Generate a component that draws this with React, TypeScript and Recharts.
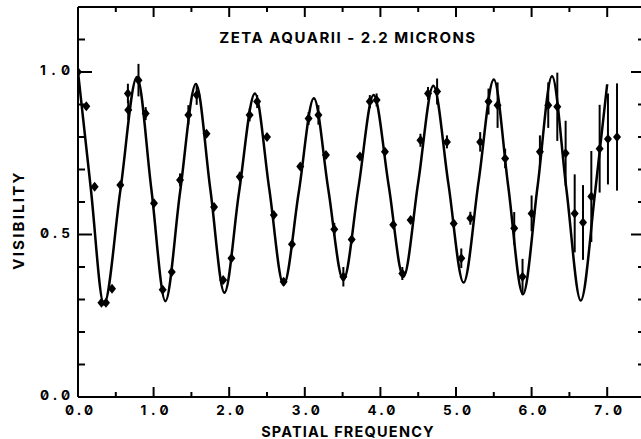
import { ComposedChart, ErrorBar, Label, Line, Scatter, XAxis, YAxis } from "recharts";

// fitted model curve, read at extrema and half-way points
const curveFreq = [
  0, 0.17, 0.343, 0.56, 0.78, 0.97, 1.156, 1.35, 1.56, 1.75, 1.937, 2.13, 2.34, 2.53,
  2.72, 2.92, 3.12, 3.31, 3.51, 3.71, 3.91, 4.11, 4.305, 4.5, 4.7, 4.9, 5.1, 5.3, 5.5,
  5.69, 5.885, 6.08, 6.27, 6.46, 6.65, 6.84, 7.0,
];
const curveVis = [
  1.0, 0.64, 0.285, 0.635, 0.985, 0.64, 0.295, 0.63, 0.963, 0.64, 0.321, 0.63, 0.934, 0.64,
  0.345, 0.63, 0.919, 0.64, 0.36, 0.645, 0.929, 0.65, 0.37, 0.66, 0.958, 0.655, 0.352, 0.665,
  0.977, 0.65, 0.316, 0.65, 0.987, 0.64, 0.297, 0.63, 0.963,
];

// measured visibilities with their errors
const obsFreq = [
  0, 0.11, 0.22, 0.31, 0.37, 0.45, 0.56, 0.66, 0.665, 0.8, 0.895, 1.005, 1.12, 1.24, 1.35,
  1.46, 1.57, 1.7, 1.8, 1.92, 2.03, 2.14, 2.27, 2.37, 2.5, 2.59, 2.72, 2.83, 2.94, 3.05,
  3.18, 3.28, 3.39, 3.51, 3.62, 3.73, 3.86, 3.95, 4.06, 4.17, 4.29, 4.4, 4.53, 4.63, 4.75,
  4.88, 4.97, 5.07, 5.19, 5.32, 5.43, 5.55, 5.65, 5.77, 5.88, 6.0, 6.11, 6.22, 6.34, 6.45,
  6.57, 6.68, 6.79, 6.9, 7.01, 7.13,
];
const obsVis = [
  1.0, 0.895, 0.647, 0.29, 0.29, 0.333, 0.652, 0.934, 0.883, 0.975, 0.872, 0.596, 0.33, 0.385,
  0.668, 0.868, 0.929, 0.81, 0.585, 0.36, 0.427, 0.678, 0.868, 0.909, 0.8, 0.56, 0.355, 0.47,
  0.709, 0.857, 0.868, 0.745, 0.516, 0.37, 0.485, 0.74, 0.909, 0.914, 0.755, 0.53, 0.38,
  0.545, 0.79, 0.934, 0.94, 0.785, 0.534, 0.427, 0.55, 0.785, 0.909, 0.898, 0.734, 0.519,
  0.37, 0.565, 0.755, 0.898, 0.893, 0.75, 0.565, 0.537, 0.617, 0.764, 0.794, 0.8,
];
const obsErr = [
  0.01, 0.01, 0.01, 0.01, 0.01, 0.01, 0.01, 0.03, 0.03, 0.05, 0.02, 0.01, 0.01, 0.01, 0.02,
  0.03, 0.03, 0.01, 0.01, 0.01, 0.01, 0.015, 0.02, 0.02, 0.01, 0.01, 0.01, 0.01, 0.01, 0.02,
  0.03, 0.01, 0.02, 0.03, 0.01, 0.01, 0.02, 0.02, 0.01, 0.01, 0.02, 0.01, 0.02, 0.02, 0.04,
  0.02, 0.01, 0.03, 0.02, 0.03, 0.04, 0.07, 0.03, 0.05, 0.055, 0.055, 0.05, 0.07, 0.105, 0.1,
  0.12, 0.115, 0.14, 0.135, 0.14, 0.165,
];

const xTicks = [0, 0.5, 1, 1.5, 2, 2.5, 3, 3.5, 4, 4.5, 5, 5.5, 6, 6.5, 7, 7.5];
const xMajor = [0, 1, 2, 3, 4, 5, 6, 7];
const xLabels = ["0.0", "1.0", "2.0", "3.0", "4.0", "5.0", "6.0", "7.0"];
const yTicks = [0, 0.1, 0.2, 0.3, 0.4, 0.5, 0.6, 0.7, 0.8, 0.9, 1.0, 1.1, 1.2];
const yMajor = [0, 0.5, 1.0];
const yLabels = ["0.0", "0.5", "1.0"];

const curve = curveFreq.map((f, i) => ({ f, v: curveVis[i] }));
const obs = obsFreq.map((f, i) => ({ f, v: obsVis[i], err: obsErr[i] }));

const FONT = "Inter, 'DejaVu Sans', sans-serif";
const labelStyle = {
  fontFamily: FONT,
  fontWeight: 700,
  fontSize: 13.5,
  fontFeatureSettings: '"zero" 1',
};
const titleStyle = { fontFamily: FONT, fontWeight: 700, fontSize: 15, letterSpacing: "1.5px" };
const xTitleStyle = { fontFamily: FONT, fontWeight: 700, fontSize: 14.5, letterSpacing: "1.2px" };
const yTitleStyle = { fontFamily: FONT, fontWeight: 700, fontSize: 15, letterSpacing: "2.2px" };

const isMajor = (list: number[], v: number) => list.some((m) => Math.abs(m - v) < 1e-6);
const labelFor = (list: number[], labels: string[], v: number) =>
  labels[list.findIndex((m) => Math.abs(m - v) < 1e-6)];

function BottomTick(props: any) {
  const { x, y, payload } = props;
  const major = isMajor(xMajor, payload.value);
  return (
    <g>
      <line x1={x} x2={x} y1={y} y2={y - (major ? 10 : 5)} stroke="#000" strokeWidth={2} />
      {major ? (
        <text
          x={x - 13}
          y={y + 13}
          textLength={28}
          lengthAdjust="spacing"
          dominantBaseline="central"
          style={labelStyle}
        >
          {labelFor(xMajor, xLabels, payload.value)}
        </text>
      ) : null}
    </g>
  );
}

function TopTick(props: any) {
  const { x, y, payload } = props;
  const major = isMajor(xMajor, payload.value);
  return <line x1={x} x2={x} y1={y} y2={y + (major ? 10 : 5)} stroke="#000" strokeWidth={2} />;
}

function LeftTick(props: any) {
  const { x, y, payload } = props;
  const major = isMajor(yMajor, payload.value);
  return (
    <g>
      <line x1={x} x2={x + (major ? 14 : 7)} y1={y} y2={y} stroke="#000" strokeWidth={2} />
      {major ? (
        <text
          x={x - 38}
          y={y - 2}
          textLength={30}
          lengthAdjust="spacing"
          dominantBaseline="central"
          style={labelStyle}
        >
          {labelFor(yMajor, yLabels, payload.value)}
        </text>
      ) : null}
    </g>
  );
}

function RightTick(props: any) {
  const { x, y, payload } = props;
  const major = isMajor(yMajor, payload.value);
  return <line x1={x} x2={x - (major ? 14 : 7)} y1={y} y2={y} stroke="#000" strokeWidth={2} />;
}

function Diamond(props: any) {
  const { cx, cy } = props;
  return (
    <polygon
      points={`${cx},${cy - 5} ${cx + 4},${cy} ${cx},${cy + 5} ${cx - 4},${cy}`}
      fill="#000"
    />
  );
}

export default function App() {
  return (
    <div
      style={{
        position: "absolute",
        left: 0,
        top: 0,
        width: 641,
        height: 439,
        overflow: "hidden",
        background: "#fff",
      }}
    >
      <ComposedChart width={660} height={439} margin={{ top: 0, right: 0, bottom: 0, left: 0 }}>
        <XAxis
          xAxisId="top"
          orientation="top"
          type="number"
          dataKey="f"
          domain={[0, 7.5]}
          allowDataOverflow
          ticks={xTicks}
          interval={0}
          height={7}
          tickSize={0}
          tickMargin={0}
          tickLine={false}
          axisLine={{ stroke: "#000", strokeWidth: 2 }}
          tick={<TopTick />}
        >
          <Label
            content={() => (
              <text x={348} y={37} textAnchor="middle" dominantBaseline="central" style={titleStyle}>
                ZETA AQUARII - 2.2 MICRONS
              </text>
            )}
          />
        </XAxis>
        <XAxis
          type="number"
          dataKey="f"
          domain={[0, 7.5]}
          allowDataOverflow
          ticks={xTicks}
          interval={0}
          height={42}
          tickSize={0}
          tickMargin={0}
          tickLine={false}
          axisLine={{ stroke: "#000", strokeWidth: 2 }}
          tick={<BottomTick />}
        >
          <Label
            content={() => (
              <text x={348} y={431} textAnchor="middle" dominantBaseline="central" style={xTitleStyle}>
                SPATIAL FREQUENCY
              </text>
            )}
          />
        </XAxis>
        <YAxis
          type="number"
          domain={[0, 1.2]}
          allowDataOverflow
          ticks={yTicks}
          interval={0}
          width={78}
          tickSize={0}
          tickMargin={0}
          tickLine={false}
          axisLine={{ stroke: "#000", strokeWidth: 2 }}
          tick={<LeftTick />}
        >
          <Label
            content={() => (
              <text
                x={18}
                y={220}
                textAnchor="middle"
                dominantBaseline="central"
                transform="rotate(-90 18 220)"
                style={yTitleStyle}
              >
                VISIBILITY
              </text>
            )}
          />
        </YAxis>
        <YAxis
          yAxisId="right"
          orientation="right"
          type="number"
          domain={[0, 1.2]}
          allowDataOverflow
          ticks={yTicks}
          interval={0}
          width={15}
          tickSize={0}
          tickMargin={0}
          tickLine={false}
          axisLine={{ stroke: "#000", strokeWidth: 2 }}
          tick={<RightTick />}
        />
        <Line
          data={curve}
          dataKey="v"
          type="monotone"
          stroke="#000"
          strokeWidth={2.5}
          dot={false}
          activeDot={false}
          isAnimationActive={false}
        />
        <Scatter data={obs} dataKey="v" shape={<Diamond />} isAnimationActive={false}>
          <ErrorBar dataKey="err" direction="y" width={0} stroke="#000" strokeWidth={2} />
        </Scatter>
      </ComposedChart>
    </div>
  );
}
